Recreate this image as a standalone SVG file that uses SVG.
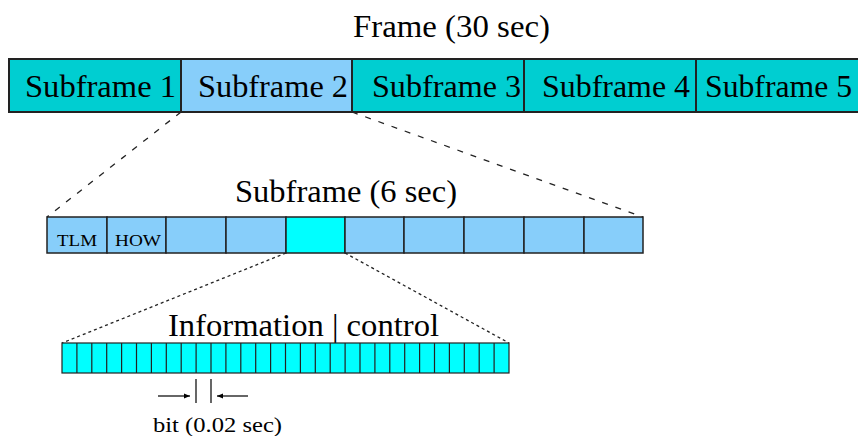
<svg xmlns="http://www.w3.org/2000/svg" width="858" height="436" viewBox="0 0 858 436">
<style>
.t{font-family:"Liberation Serif","Times New Roman",serif;fill:#000}
.big{font-size:32px}
.sm{font-size:17px}
.md{font-size:21px}
.frm{fill:#00CED1;stroke:#222;stroke-width:2}
.lb{fill:#87CEFA;stroke:#222;stroke-width:1.5}
.cy{fill:#00FFFF;stroke:#222;stroke-width:1.5}
.bit{fill:#00FFFF;stroke:#222;stroke-width:1.2}
.d1{fill:none;stroke:#222;stroke-width:1.3;stroke-dasharray:6 8}
.d2{fill:none;stroke:#222;stroke-width:1.3;stroke-dasharray:3 3}
.ar{fill:none;stroke:#000;stroke-width:1.2}
</style>
<defs>
<marker id="ah" viewBox="0 0 10 10" refX="10" refY="5" markerWidth="8" markerHeight="6" orient="auto" markerUnits="userSpaceOnUse">
<path d="M0,1 L10,5 L0,9 Z" fill="#000"/>
</marker>
</defs>
<rect width="858" height="436" fill="#fff"/>

<text id="frame-title" class="t big" x="353" y="37" textLength="197" lengthAdjust="spacingAndGlyphs">Frame (30 sec)</text>

<g id="frame">
<g id="sf1"><rect class="frm" x="9" y="59" width="172" height="53"/><text class="t big" x="25" y="97" textLength="151" lengthAdjust="spacingAndGlyphs">Subframe 1</text></g>
<g id="sf2"><rect class="lb" style="stroke-width:2" x="181" y="59" width="171" height="53"/><text class="t big" x="198" y="97" textLength="150" lengthAdjust="spacingAndGlyphs">Subframe 2</text></g>
<g id="sf3"><rect class="frm" x="352" y="59" width="172" height="53"/><text class="t big" x="372" y="97" textLength="149" lengthAdjust="spacingAndGlyphs">Subframe 3</text></g>
<g id="sf4"><rect class="frm" x="524" y="59" width="172" height="53"/><text class="t big" x="542" y="97" textLength="148" lengthAdjust="spacingAndGlyphs">Subframe 4</text></g>
<g id="sf5"><rect class="frm" x="696" y="59" width="172" height="53"/><text class="t big" x="705" y="97" textLength="147" lengthAdjust="spacingAndGlyphs">Subframe 5</text></g>
</g>

<text id="subframe-title" class="t big" x="235" y="202" textLength="222" lengthAdjust="spacingAndGlyphs">Subframe (6 sec)</text>

<g id="subframe">
<g id="w1"><rect class="lb" x="47" y="217" width="60" height="36"/><text class="t sm" x="57" y="246" textLength="40" lengthAdjust="spacingAndGlyphs">TLM</text></g>
<g id="w2"><rect class="lb" x="107" y="217" width="59" height="36"/><text class="t sm" x="115" y="246" textLength="46" lengthAdjust="spacingAndGlyphs">HOW</text></g>
<g id="w3"><rect class="lb" x="166" y="217" width="60" height="36"/></g>
<g id="w4"><rect class="lb" x="226" y="217" width="60" height="36"/></g>
<g id="w5"><rect class="cy" x="286" y="217" width="59" height="36"/></g>
<g id="w6"><rect class="lb" x="345" y="217" width="59" height="36"/></g>
<g id="w7"><rect class="lb" x="404" y="217" width="60" height="36"/></g>
<g id="w8"><rect class="lb" x="464" y="217" width="60" height="36"/></g>
<g id="w9"><rect class="lb" x="524" y="217" width="60" height="36"/></g>
<g id="w10"><rect class="lb" x="584" y="217" width="59" height="36"/></g>
</g>

<text id="word-title" class="t big" x="168" y="336" textLength="271" lengthAdjust="spacingAndGlyphs">Information | control</text>

<g id="word">
<rect class="bit" x="62" y="343" width="447" height="30"/>
<path class="bit" fill="none" d="M76.9,343V373M91.8,343V373M106.7,343V373M121.6,343V373M136.5,343V373M151.4,343V373M166.3,343V373M181.2,343V373M196.1,343V373M211,343V373M225.9,343V373M240.8,343V373M255.7,343V373M270.6,343V373M285.5,343V373M300.4,343V373M315.3,343V373M330.2,343V373M345.1,343V373M360,343V373M374.9,343V373M389.8,343V373M404.7,343V373M419.6,343V373M434.5,343V373M449.4,343V373M464.3,343V373M479.2,343V373M494.1,343V373"/>
</g>

<g id="connectors">
<line class="d1" x1="181" y1="112" x2="47" y2="217"/>
<line class="d1" x1="352" y1="112" x2="643" y2="217"/>
<line class="d2" x1="286" y1="253" x2="62" y2="343"/>
<line class="d2" x1="345" y1="253" x2="509" y2="343"/>
<line class="ar" x1="196" y1="379" x2="196" y2="403"/>
<line class="ar" x1="211" y1="379" x2="211" y2="403"/>
<line class="ar" x1="158" y1="396" x2="190" y2="396" marker-end="url(#ah)"/>
<line class="ar" x1="248" y1="396" x2="217" y2="396" marker-end="url(#ah)"/>
</g>

<text id="bit-label" class="t md" x="153" y="432" textLength="129" lengthAdjust="spacingAndGlyphs">bit (0.02 sec)</text>
</svg>
